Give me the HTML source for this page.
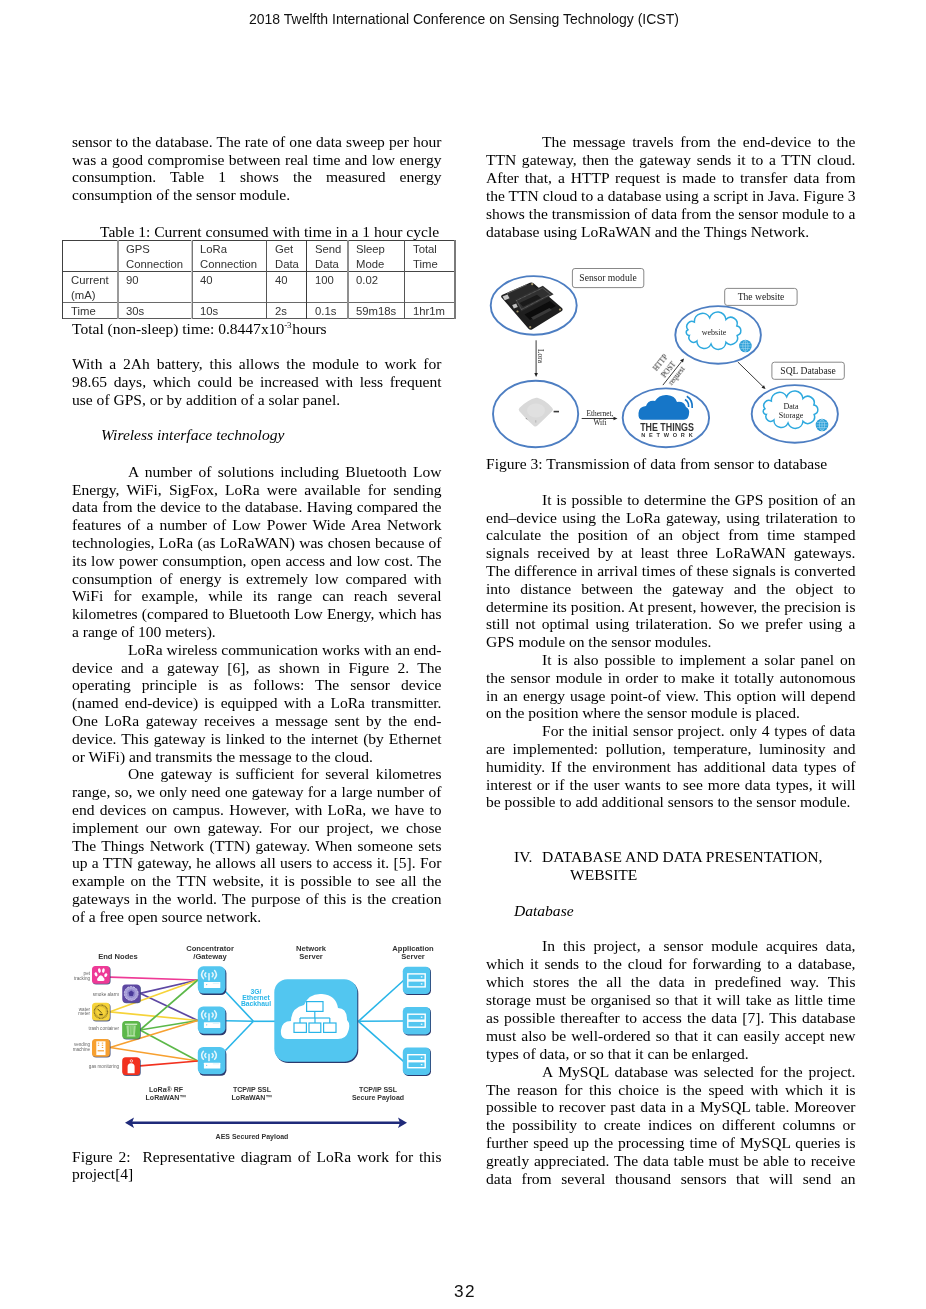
<!DOCTYPE html>
<html><head><meta charset="utf-8">
<style>
html,body{margin:0;padding:0;background:#fff;}
body{width:926px;height:1309px;position:relative;overflow:hidden;color:#000;-webkit-font-smoothing:antialiased;}
.j,.l,.tc,.fl,.hdr{will-change:transform;}
.j,.l{position:absolute;font-family:"Liberation Serif",serif;font-size:15.56px;line-height:18px;white-space:nowrap;}
.j{text-align:justify;text-align-last:justify;}
.sup{font-size:9px;position:relative;top:-6.5px;letter-spacing:-0.3px;margin-right:1px;}
.tc{position:absolute;font-family:"Liberation Sans",sans-serif;font-size:11.3px;line-height:15.3px;white-space:nowrap;color:#333;}
.fl{position:absolute;font-family:"Liberation Sans",sans-serif;line-height:1;white-space:nowrap;}
.hdr{position:absolute;font-family:"Liberation Sans",sans-serif;white-space:nowrap;color:#111;}
</style></head><body>
<div class="hdr" style="left:248.6px;top:11px;font-size:14px;">2018 Twelfth International Conference on Sensing Technology (ICST)</div>
<div class="hdr" style="left:454px;top:1281px;font-size:17.2px;letter-spacing:1.4px;">32</div>
<div class="j" style="left:71.50px;top:132.80px;width:369.50px;">sensor to the database. The rate of one data sweep per hour</div>
<div class="j" style="left:71.50px;top:150.60px;width:369.50px;">was a good compromise between real time and low energy</div>
<div class="j" style="left:71.50px;top:168.40px;width:369.50px;">consumption. Table 1 shows the measured energy</div>
<div class="l" style="left:71.50px;top:186.20px;">consumption of the sensor module.</div>
<div class="l" style="left:100.00px;top:223.00px;">Table 1: Current consumed with time in a 1 hour cycle</div>
<div class="l" style="left:71.50px;top:320.00px;">Total (non-sleep) time: 0.8447x10<span class='sup'>-3</span>hours</div>
<div class="j" style="left:71.50px;top:355.10px;width:369.50px;">With a 2Ah battery, this allows the module to work for</div>
<div class="j" style="left:71.50px;top:372.90px;width:369.50px;">98.65 days, which could be increased with less frequent</div>
<div class="l" style="left:71.50px;top:390.70px;">use of GPS, or by addition of a solar panel.</div>
<div class="l" style="left:100.50px;top:426.40px;"><i>Wireless interface technology</i></div>
<div class="j" style="left:127.50px;top:462.80px;width:313.50px;">A number of solutions including Bluetooth Low</div>
<div class="j" style="left:71.50px;top:480.60px;width:369.50px;">Energy, WiFi, SigFox, LoRa were available for sending</div>
<div class="j" style="left:71.50px;top:498.40px;width:369.50px;">data from the device to the database. Having compared the</div>
<div class="j" style="left:71.50px;top:516.20px;width:369.50px;">features of a number of Low Power Wide Area Network</div>
<div class="j" style="left:71.50px;top:534.00px;width:369.50px;">technologies, LoRa (as LoRaWAN) was chosen because of</div>
<div class="j" style="left:71.50px;top:551.80px;width:369.50px;">its low power consumption, open access and low cost. The</div>
<div class="j" style="left:71.50px;top:569.60px;width:369.50px;">consumption of energy is extremely low compared with</div>
<div class="j" style="left:71.50px;top:587.40px;width:369.50px;">WiFi for example, while its range can reach several</div>
<div class="j" style="left:71.50px;top:605.20px;width:369.50px;">kilometres (compared to Bluetooth Low Energy, which has</div>
<div class="l" style="left:71.50px;top:623.00px;">a range of 100 meters).</div>
<div class="j" style="left:127.50px;top:640.80px;width:313.50px;word-spacing:-0.29px;">LoRa wireless communication works with an end-</div>
<div class="j" style="left:71.50px;top:658.60px;width:369.50px;">device and a gateway [6], as shown in Figure 2. The</div>
<div class="j" style="left:71.50px;top:676.40px;width:369.50px;">operating principle is as follows: The sensor device</div>
<div class="j" style="left:71.50px;top:694.20px;width:369.50px;">(named end-device) is equipped with a LoRa transmitter.</div>
<div class="j" style="left:71.50px;top:712.00px;width:369.50px;">One LoRa gateway receives a message sent by the end-</div>
<div class="j" style="left:71.50px;top:729.80px;width:369.50px;">device. This gateway is linked to the internet (by Ethernet</div>
<div class="l" style="left:71.50px;top:747.60px;">or WiFi) and transmits the message to the cloud.</div>
<div class="j" style="left:127.50px;top:765.40px;width:313.50px;">One gateway is sufficient for several kilometres</div>
<div class="j" style="left:71.50px;top:783.20px;width:369.50px;">range, so, we only need one gateway for a large number of</div>
<div class="j" style="left:71.50px;top:801.00px;width:369.50px;">end devices on campus. However, with LoRa, we have to</div>
<div class="j" style="left:71.50px;top:818.80px;width:369.50px;">implement our own gateway. For our project, we chose</div>
<div class="j" style="left:71.50px;top:836.60px;width:369.50px;">The Things Network (TTN) gateway. When someone sets</div>
<div class="j" style="left:71.50px;top:854.40px;width:369.50px;">up a TTN gateway, he allows all users to access it. [5]. For</div>
<div class="j" style="left:71.50px;top:872.20px;width:369.50px;">example on the TTN website, it is possible to see all the</div>
<div class="j" style="left:71.50px;top:890.00px;width:369.50px;">gateways in the world. The purpose of this is the creation</div>
<div class="l" style="left:71.50px;top:907.80px;">of a free open source network.</div>
<div class="j" style="left:71.50px;top:1147.60px;width:369.50px;word-spacing:-3.15px;">Figure 2:&nbsp; Representative diagram of LoRa work for this</div>
<div class="l" style="left:71.50px;top:1164.70px;">project[4]</div>
<div class="j" style="left:542.00px;top:133.20px;width:313.50px;">The message travels from the end-device to the</div>
<div class="j" style="left:486.00px;top:151.10px;width:369.50px;">TTN gateway, then the gateway sends it to a TTN cloud.</div>
<div class="j" style="left:486.00px;top:169.00px;width:369.50px;">After that, a HTTP request is made to transfer data from</div>
<div class="j" style="left:486.00px;top:186.90px;width:369.50px;word-spacing:-0.17px;">the TTN cloud to a database using a script in Java. Figure 3</div>
<div class="j" style="left:486.00px;top:204.80px;width:369.50px;word-spacing:-0.11px;">shows the transmission of data from the sensor module to a</div>
<div class="l" style="left:486.00px;top:222.70px;">database using LoRaWAN and the Things Network.</div>
<div class="l" style="left:486.00px;top:455.10px;">Figure 3: Transmission of data from sensor to database</div>
<div class="j" style="left:542.00px;top:490.70px;width:313.50px;">It is possible to determine the GPS position of an</div>
<div class="j" style="left:486.00px;top:508.50px;width:369.50px;">end–device using the LoRa gateway, using trilateration to</div>
<div class="j" style="left:486.00px;top:526.30px;width:369.50px;">calculate the position of an object from time stamped</div>
<div class="j" style="left:486.00px;top:544.10px;width:369.50px;">signals received by at least three LoRaWAN gateways.</div>
<div class="j" style="left:486.00px;top:561.90px;width:369.50px;">The difference in arrival times of these signals is converted</div>
<div class="j" style="left:486.00px;top:579.70px;width:369.50px;">into distance between the gateway and the object to</div>
<div class="j" style="left:486.00px;top:597.50px;width:369.50px;">determine its position. At present, however, the precision is</div>
<div class="j" style="left:486.00px;top:615.30px;width:369.50px;">still not optimal using trilateration. So we prefer using a</div>
<div class="l" style="left:486.00px;top:633.10px;">GPS module on the sensor modules.</div>
<div class="j" style="left:542.00px;top:650.90px;width:313.50px;">It is also possible to implement a solar panel on</div>
<div class="j" style="left:486.00px;top:668.70px;width:369.50px;">the sensor module in order to make it totally autonomous</div>
<div class="j" style="left:486.00px;top:686.50px;width:369.50px;">in an energy usage point-of view. This option will depend</div>
<div class="l" style="left:486.00px;top:704.30px;">on the position where the sensor module is placed.</div>
<div class="j" style="left:542.00px;top:722.10px;width:313.50px;">For the initial sensor project. only 4 types of data</div>
<div class="j" style="left:486.00px;top:739.90px;width:369.50px;">are implemented: pollution, temperature, luminosity and</div>
<div class="j" style="left:486.00px;top:757.70px;width:369.50px;">humidity. If the environment has additional data types of</div>
<div class="j" style="left:486.00px;top:775.50px;width:369.50px;">interest or if the user wants to see more data types, it will</div>
<div class="l" style="left:486.00px;top:793.30px;">be possible to add additional sensors to the sensor module.</div>
<div class="l" style="left:513.80px;top:848.10px;">IV.</div>
<div class="l" style="left:541.80px;top:848.10px;">DATABASE AND DATA PRESENTATION,</div>
<div class="l" style="left:570.30px;top:865.80px;">WEBSITE</div>
<div class="l" style="left:513.80px;top:902.10px;"><i>Database</i></div>
<div class="j" style="left:542.00px;top:937.40px;width:313.50px;">In this project, a sensor module acquires data,</div>
<div class="j" style="left:486.00px;top:955.29px;width:369.50px;">which it sends to the cloud for forwarding to a database,</div>
<div class="j" style="left:486.00px;top:973.18px;width:369.50px;">which stores the all the data in predefined way. This</div>
<div class="j" style="left:486.00px;top:991.07px;width:369.50px;">storage must be organised so that it will take as little time</div>
<div class="j" style="left:486.00px;top:1008.96px;width:369.50px;">as possible thereafter to access the data [7]. This database</div>
<div class="j" style="left:486.00px;top:1026.85px;width:369.50px;">must also be well-ordered so that it can easily accept new</div>
<div class="l" style="left:486.00px;top:1044.74px;">types of data, or so that it can be enlarged.</div>
<div class="j" style="left:542.00px;top:1062.63px;width:313.50px;">A MySQL database was selected for the project.</div>
<div class="j" style="left:486.00px;top:1080.52px;width:369.50px;">The reason for this choice is the speed with which it is</div>
<div class="j" style="left:486.00px;top:1098.41px;width:369.50px;">possible to recover past data in a MySQL table. Moreover</div>
<div class="j" style="left:486.00px;top:1116.30px;width:369.50px;">the possibility to create indices on different columns or</div>
<div class="j" style="left:486.00px;top:1134.19px;width:369.50px;">further speed up the processing time of MySQL queries is</div>
<div class="j" style="left:486.00px;top:1152.08px;width:369.50px;">greatly appreciated. The data table must be able to receive</div>
<div class="j" style="left:486.00px;top:1169.97px;width:369.50px;">data from several thousand sensors that will send an</div>
<div style="position:absolute;left:62px;top:240px;width:394px;height:1px;background:#404040"></div>
<div style="position:absolute;left:62px;top:271px;width:394px;height:1px;background:#454545"></div>
<div style="position:absolute;left:62px;top:302px;width:394px;height:1px;background:#6a6a6a"></div>
<div style="position:absolute;left:62px;top:318px;width:394px;height:1px;background:#5a5a5a"></div>
<div style="position:absolute;left:62px;top:240px;width:1px;height:79px;background:#404040"></div>
<div style="position:absolute;left:117px;top:240px;width:2px;height:79px;background:#9a9a9a"></div>
<div style="position:absolute;left:191px;top:240px;width:1px;height:79px;background:#c8c8c8"></div>
<div style="position:absolute;left:192px;top:240px;width:1px;height:79px;background:#777"></div>
<div style="position:absolute;left:266px;top:240px;width:1px;height:79px;background:#555"></div>
<div style="position:absolute;left:306px;top:240px;width:1px;height:79px;background:#3a3a3a"></div>
<div style="position:absolute;left:347px;top:240px;width:2px;height:79px;background:#8f8f8f"></div>
<div style="position:absolute;left:404px;top:240px;width:1px;height:79px;background:#555"></div>
<div style="position:absolute;left:454px;top:240px;width:2px;height:79px;background:#7a7a7a"></div>
<div class="tc" style="left:126.20px;top:242.10px;">GPS<br>Connection</div>
<div class="tc" style="left:200.10px;top:242.10px;">LoRa<br>Connection</div>
<div class="tc" style="left:274.50px;top:242.10px;">Get<br>Data</div>
<div class="tc" style="left:314.90px;top:242.10px;">Send<br>Data</div>
<div class="tc" style="left:356.00px;top:242.10px;">Sleep<br>Mode</div>
<div class="tc" style="left:412.60px;top:242.10px;">Total<br>Time</div>
<div class="tc" style="left:71.30px;top:272.50px;">Current<br>(mA)</div>
<div class="tc" style="left:126.20px;top:272.50px;">90</div>
<div class="tc" style="left:200.10px;top:272.50px;">40</div>
<div class="tc" style="left:274.50px;top:272.50px;">40</div>
<div class="tc" style="left:314.90px;top:272.50px;">100</div>
<div class="tc" style="left:356.00px;top:272.50px;">0.02</div>
<div class="tc" style="left:71.30px;top:304.20px;">Time</div>
<div class="tc" style="left:126.20px;top:304.20px;">30s</div>
<div class="tc" style="left:200.10px;top:304.20px;">10s</div>
<div class="tc" style="left:274.50px;top:304.20px;">2s</div>
<div class="tc" style="left:314.90px;top:304.20px;">0.1s</div>
<div class="tc" style="left:356.00px;top:304.20px;">59m18s</div>
<div class="tc" style="left:412.60px;top:304.20px;">1hr1m</div>
<svg style="position:absolute;left:0;top:0" width="926" height="1309" viewBox="0 0 926 1309">
<line x1="110" y1="977.2" x2="197.8" y2="980" stroke="#ee3a96" stroke-width="1.7"/>
<line x1="140" y1="993.3" x2="197.8" y2="980" stroke="#5d47a2" stroke-width="1.7"/>
<line x1="140" y1="993.3" x2="197.8" y2="1020.5" stroke="#5d47a2" stroke-width="1.7"/>
<line x1="110" y1="1011.8" x2="197.8" y2="980" stroke="#f6d33a" stroke-width="1.7"/>
<line x1="110" y1="1011.8" x2="197.8" y2="1020.5" stroke="#f6d33a" stroke-width="1.7"/>
<line x1="140" y1="1030" x2="197.8" y2="980" stroke="#5cb849" stroke-width="1.7"/>
<line x1="140" y1="1030" x2="197.8" y2="1020.5" stroke="#5cb849" stroke-width="1.7"/>
<line x1="140" y1="1030" x2="197.8" y2="1061" stroke="#5cb849" stroke-width="1.7"/>
<line x1="110" y1="1047.5" x2="197.8" y2="1020.5" stroke="#f7a030" stroke-width="1.7"/>
<line x1="110" y1="1047.5" x2="197.8" y2="1061" stroke="#f7a030" stroke-width="1.7"/>
<line x1="140" y1="1065.8" x2="197.8" y2="1061" stroke="#f2311f" stroke-width="1.7"/>
<line x1="225.4" y1="991.5" x2="253.4" y2="1021.3" stroke="#29b5e8" stroke-width="1.6"/>
<line x1="225.4" y1="1020.8" x2="253.4" y2="1021.3" stroke="#29b5e8" stroke-width="1.6"/>
<line x1="225.4" y1="1050.5" x2="253.4" y2="1021.3" stroke="#29b5e8" stroke-width="1.6"/>
<line x1="253.4" y1="1021.3" x2="275" y2="1021.3" stroke="#29b5e8" stroke-width="1.6"/>
<line x1="358.4" y1="1021.3" x2="403.5" y2="980.5" stroke="#29b5e8" stroke-width="1.6"/>
<line x1="358.4" y1="1021.3" x2="403.5" y2="1021.0" stroke="#29b5e8" stroke-width="1.6"/>
<line x1="358.4" y1="1021.3" x2="403.5" y2="1061.3" stroke="#29b5e8" stroke-width="1.6"/>
<rect x="92.6" y="966.6" width="18" height="18" rx="3.5" fill="#2b3a6e" opacity="0.8"/>
<rect x="92.0" y="966.0" width="17.8" height="17.8" rx="3.5" fill="#ee3a96"/>
<rect x="122.89999999999999" y="985.2" width="18" height="18" rx="3.5" fill="#2b3a6e" opacity="0.8"/>
<rect x="122.3" y="984.6" width="17.8" height="17.8" rx="3.5" fill="#5d47a2"/>
<rect x="92.6" y="1003.4" width="18" height="18" rx="3.5" fill="#2b3a6e" opacity="0.8"/>
<rect x="92.0" y="1002.8" width="17.8" height="17.8" rx="3.5" fill="#f6d33a"/>
<rect x="122.8" y="1021.6" width="18" height="18" rx="3.5" fill="#2b3a6e" opacity="0.8"/>
<rect x="122.2" y="1021.0" width="17.8" height="17.8" rx="3.5" fill="#5cb849"/>
<rect x="92.6" y="1039.6" width="18" height="18" rx="3.5" fill="#2b3a6e" opacity="0.8"/>
<rect x="92.0" y="1039.0" width="17.8" height="17.8" rx="3.5" fill="#f7a030"/>
<rect x="122.8" y="1057.8999999999999" width="18" height="18" rx="3.5" fill="#2b3a6e" opacity="0.8"/>
<rect x="122.2" y="1057.3" width="17.8" height="17.8" rx="3.5" fill="#f2311f"/>
<g fill="#fff"><ellipse cx="96" cy="974.4" rx="1.35" ry="2.1" transform="rotate(-25 96 974.4)"/><ellipse cx="99.4" cy="970.6" rx="1.35" ry="2.3" transform="rotate(-10 99.4 970.6)"/><ellipse cx="103.4" cy="970.6" rx="1.3" ry="2.3" transform="rotate(10 103.4 970.6)"/><ellipse cx="105.8" cy="975.1" rx="1.4" ry="2.0" transform="rotate(25 105.8 975.1)"/><path d="M100.8 975.2 Q102.2 975.2 104.2 978.6 Q105.2 980.8 103 981 L98.6 981 Q96.4 980.8 97.4 978.6 Q99.4 975.2 100.8 975.2 Z"/></g>
<circle cx="131.2" cy="993.5" r="6.9" fill="#a79fd8"/><circle cx="131.2" cy="993.5" r="6.9" fill="none" stroke="#d9d4f2" stroke-width="0.8" stroke-dasharray="2.2 0.9"/><circle cx="131.2" cy="993.5" r="4.6" fill="#8f86cc"/><circle cx="131.2" cy="993.5" r="4.6" fill="none" stroke="#cfc9ee" stroke-width="0.5" stroke-dasharray="1 0.8"/><path d="M131.2 990.6 L133.9 992.6 L132.9 996.0 L129.5 996.0 L128.5 992.6 Z" fill="#4a3a9a"/>
<circle cx="100.9" cy="1011.6999999999999" r="6.6" fill="none" stroke="#7a6620" stroke-width="1.3" stroke-dasharray="0.9 0.5"/><circle cx="100.9" cy="1011.6999999999999" r="5.2" fill="none" stroke="#8a7526" stroke-width="0.5" stroke-dasharray="0.6 0.6"/><line x1="97.5" y1="1008.8" x2="101.5" y2="1012.8" stroke="#4a3d12" stroke-width="0.9"/><rect x="99.3" y="1013.8" width="3.4" height="1.5" fill="#4a3d12"/>
<path d="M126.4 1025.6 H135.8 L134.8 1036.0 H127.4 Z" fill="#a6dc97"/><rect x="125.0" y="1023.6" width="12.2" height="1.4" fill="#c9ecbf"/><rect x="126.8" y="1035.6" width="8.6" height="0.9" fill="#c9ecbf"/><g stroke="#5cb849" stroke-width="0.8"><line x1="129.2" y1="1026.0" x2="129.6" y2="1035.0"/><line x1="131.1" y1="1026.0" x2="131.1" y2="1035.0"/><line x1="133.0" y1="1026.0" x2="132.6" y2="1035.0"/></g>
<rect x="96.3" y="1041.3" width="9.2" height="13.8" fill="#fff"/><g fill="#f7a030"><rect x="97.8" y="1042.6" width="1.4" height="1"/><rect x="101.8" y="1042.6" width="1.4" height="1"/><rect x="97.8" y="1044.8" width="1.4" height="1"/><rect x="101.8" y="1044.8" width="1.4" height="1"/><rect x="101.8" y="1047.0" width="1.4" height="1"/><rect x="97.6" y="1050.2" width="6.4" height="1.2"/></g>
<path d="M127.60000000000001 1073.3 V1066.8 Q127.60000000000001 1063.3 131.1 1063.3 Q134.6 1063.3 134.6 1066.8 V1073.3 Z" fill="#fff"/><circle cx="131.4" cy="1060.8999999999999" r="1.2" fill="none" stroke="#fff" stroke-width="0.7"/>
<rect x="198.8" y="967.6999999999999" width="27.6" height="27.4" rx="5.5" fill="#2b3a6e"/>
<rect x="197.8" y="966.3" width="27.6" height="27.2" rx="5.5" fill="#52c6f0"/>
<g fill="none" stroke="#e6f6fc" stroke-width="1.5" stroke-linecap="round"><path d="M203.4 970.5 Q199.8 974.5999999999999 203.4 978.5999999999999"/><path d="M214.6 970.5 Q218.2 974.5999999999999 214.6 978.5999999999999"/><path d="M205.8 972.9 Q203.8 974.8 205.8 976.6999999999999"/><path d="M212.2 972.9 Q214.2 974.8 212.2 976.6999999999999"/></g>
<rect x="208.25" y="973.0999999999999" width="1.5" height="7.4" fill="#e6f6fc"/>
<rect x="203.9" y="982.0" width="16.4" height="5.9" rx="0.5" fill="#fff"/><circle cx="206.70000000000002" cy="984.5999999999999" r="0.6" fill="#52c6f0"/><rect x="212.8" y="982.9" width="6.4" height="0.6" fill="#c4ecfa"/>
<rect x="198.8" y="1007.9" width="27.6" height="27.4" rx="5.5" fill="#2b3a6e"/>
<rect x="197.8" y="1006.5" width="27.6" height="27.2" rx="5.5" fill="#52c6f0"/>
<g fill="none" stroke="#e6f6fc" stroke-width="1.5" stroke-linecap="round"><path d="M203.4 1010.7 Q199.8 1014.8 203.4 1018.8"/><path d="M214.6 1010.7 Q218.2 1014.8 214.6 1018.8"/><path d="M205.8 1013.1 Q203.8 1015.0 205.8 1016.9"/><path d="M212.2 1013.1 Q214.2 1015.0 212.2 1016.9"/></g>
<rect x="208.25" y="1013.3" width="1.5" height="7.4" fill="#e6f6fc"/>
<rect x="203.9" y="1022.2" width="16.4" height="5.9" rx="0.5" fill="#fff"/><circle cx="206.70000000000002" cy="1024.8" r="0.6" fill="#52c6f0"/><rect x="212.8" y="1023.1" width="6.4" height="0.6" fill="#c4ecfa"/>
<rect x="198.8" y="1048.4" width="27.6" height="27.4" rx="5.5" fill="#2b3a6e"/>
<rect x="197.8" y="1047.0" width="27.6" height="27.2" rx="5.5" fill="#52c6f0"/>
<g fill="none" stroke="#e6f6fc" stroke-width="1.5" stroke-linecap="round"><path d="M203.4 1051.2 Q199.8 1055.3 203.4 1059.3"/><path d="M214.6 1051.2 Q218.2 1055.3 214.6 1059.3"/><path d="M205.8 1053.6 Q203.8 1055.5 205.8 1057.4"/><path d="M212.2 1053.6 Q214.2 1055.5 212.2 1057.4"/></g>
<rect x="208.25" y="1053.8" width="1.5" height="7.4" fill="#e6f6fc"/>
<rect x="203.9" y="1062.7" width="16.4" height="5.9" rx="0.5" fill="#fff"/><circle cx="206.70000000000002" cy="1065.3" r="0.6" fill="#52c6f0"/><rect x="212.8" y="1063.6" width="6.4" height="0.6" fill="#c4ecfa"/>
<rect x="275.3" y="980.5" width="83" height="82.5" rx="13" fill="#2b3a6e"/>
<rect x="274.3" y="979.3" width="83" height="82.5" rx="13" fill="#52c6f0"/>
<path d="M287 1039 Q280 1039 281 1030 Q282 1021 291 1021 Q291 1008 304 1005 Q309 993 322 994 Q336 995 338 1008 Q347 1008 347 1020 Q351 1024 348 1032 Q346 1039 338 1039 Z" fill="#fff"/>
<g fill="none" stroke="#29b5e8" stroke-width="1.2"><rect x="306.6" y="1001.6" width="16.4" height="9.8"/><line x1="314.8" y1="1011.4" x2="314.8" y2="1018"/><line x1="300" y1="1018" x2="329.8" y2="1018"/><line x1="300" y1="1018" x2="300" y2="1023"/><line x1="315" y1="1018" x2="315" y2="1023"/><line x1="329.8" y1="1018" x2="329.8" y2="1023"/><rect x="294" y="1023" width="12.4" height="9.4"/><rect x="309" y="1023" width="11.8" height="9.4"/><rect x="323.6" y="1023" width="12.4" height="9.4"/></g>
<rect x="403.6" y="967.5" width="27.4" height="27.6" rx="4.5" fill="#2b3a6e"/>
<rect x="402.8" y="966.7" width="27.4" height="27.4" rx="4.5" fill="#52c6f0"/>
<g fill="none" stroke="#fff" stroke-width="1.4"><rect x="407.8" y="973.9000000000001" width="17.4" height="6"/><rect x="407.8" y="980.9000000000001" width="17.4" height="6"/></g><rect x="420.8" y="976.3000000000001" width="1.6" height="1.2" fill="#fff"/><rect x="420.8" y="983.3000000000001" width="1.6" height="1.2" fill="#fff"/>
<rect x="403.6" y="1007.8" width="27.4" height="27.6" rx="4.5" fill="#2b3a6e"/>
<rect x="402.8" y="1007.0" width="27.4" height="27.4" rx="4.5" fill="#52c6f0"/>
<g fill="none" stroke="#fff" stroke-width="1.4"><rect x="407.8" y="1014.2" width="17.4" height="6"/><rect x="407.8" y="1021.2" width="17.4" height="6"/></g><rect x="420.8" y="1016.6" width="1.6" height="1.2" fill="#fff"/><rect x="420.8" y="1023.6" width="1.6" height="1.2" fill="#fff"/>
<rect x="403.6" y="1048.3" width="27.4" height="27.6" rx="4.5" fill="#2b3a6e"/>
<rect x="402.8" y="1047.5" width="27.4" height="27.4" rx="4.5" fill="#52c6f0"/>
<g fill="none" stroke="#fff" stroke-width="1.4"><rect x="407.8" y="1054.7" width="17.4" height="6"/><rect x="407.8" y="1061.7" width="17.4" height="6"/></g><rect x="420.8" y="1057.1" width="1.6" height="1.2" fill="#fff"/><rect x="420.8" y="1064.1" width="1.6" height="1.2" fill="#fff"/>
<line x1="130" y1="1122.7" x2="402" y2="1122.7" stroke="#1f2a7a" stroke-width="2.6"/>
<path d="M125 1122.7 L134 1117.5 L132 1122.7 L134 1128 Z" fill="#1f2a7a"/><path d="M407 1122.7 L398 1117.5 L400 1122.7 L398 1128 Z" fill="#1f2a7a"/>
</svg>
<div class="fl" style="left:57.8px;top:953.39px;width:120px;text-align:center;font-size:7.6px;font-weight:bold;color:#333">End Nodes</div>
<div class="fl" style="left:150.3px;top:944.99px;width:120px;text-align:center;font-size:7.6px;font-weight:bold;color:#333">Concentrator</div>
<div class="fl" style="left:150.3px;top:952.59px;width:120px;text-align:center;font-size:7.6px;font-weight:bold;color:#333">/Gateway</div>
<div class="fl" style="left:251.3px;top:944.79px;width:120px;text-align:center;font-size:7.6px;font-weight:bold;color:#333">Network</div>
<div class="fl" style="left:251.3px;top:952.89px;width:120px;text-align:center;font-size:7.6px;font-weight:bold;color:#333">Server</div>
<div class="fl" style="left:353.0px;top:944.79px;width:120px;text-align:center;font-size:7.6px;font-weight:bold;color:#333">Application</div>
<div class="fl" style="left:353.0px;top:952.89px;width:120px;text-align:center;font-size:7.6px;font-weight:bold;color:#333">Server</div>
<div class="fl" style="left:196.0px;top:988.78px;width:120px;text-align:center;font-size:6.8px;font-weight:bold;color:#29b5e8">3G/</div>
<div class="fl" style="left:196.0px;top:995.08px;width:120px;text-align:center;font-size:6.8px;font-weight:bold;color:#29b5e8">Ethernet</div>
<div class="fl" style="left:196.0px;top:1001.38px;width:120px;text-align:center;font-size:6.8px;font-weight:bold;color:#29b5e8">Backhaul</div>
<div class="fl" style="left:106.0px;top:1086.46px;width:120px;text-align:center;font-size:7.0px;font-weight:bold;color:#333">LoRa® RF</div>
<div class="fl" style="left:106.0px;top:1093.76px;width:120px;text-align:center;font-size:7.0px;font-weight:bold;color:#333">LoRaWAN™</div>
<div class="fl" style="left:191.6px;top:1086.46px;width:120px;text-align:center;font-size:7.0px;font-weight:bold;color:#333">TCP/IP SSL</div>
<div class="fl" style="left:191.6px;top:1093.76px;width:120px;text-align:center;font-size:7.0px;font-weight:bold;color:#333">LoRaWAN™</div>
<div class="fl" style="left:318.3px;top:1086.46px;width:120px;text-align:center;font-size:7.0px;font-weight:bold;color:#333">TCP/IP SSL</div>
<div class="fl" style="left:318.3px;top:1093.76px;width:120px;text-align:center;font-size:7.0px;font-weight:bold;color:#333">Secure Payload</div>
<div class="fl" style="left:191.6px;top:1132.96px;width:120px;text-align:center;font-size:7.0px;font-weight:bold;color:#333">AES Secured Payload</div>
<div class="fl" style="left:-30.299999999999997px;top:972.05px;width:120px;text-align:right;font-size:4.6px;font-weight:normal;color:#666">pet</div>
<div class="fl" style="left:-30.299999999999997px;top:976.75px;width:120px;text-align:right;font-size:4.6px;font-weight:normal;color:#666">tracking</div>
<div class="fl" style="left:-1.4000000000000057px;top:992.75px;width:120px;text-align:right;font-size:4.6px;font-weight:normal;color:#666">smoke alarm</div>
<div class="fl" style="left:-30.299999999999997px;top:1007.55px;width:120px;text-align:right;font-size:4.6px;font-weight:normal;color:#666">water</div>
<div class="fl" style="left:-30.299999999999997px;top:1012.35px;width:120px;text-align:right;font-size:4.6px;font-weight:normal;color:#666">meter</div>
<div class="fl" style="left:-1.4000000000000057px;top:1027.45px;width:120px;text-align:right;font-size:4.6px;font-weight:normal;color:#666">trash container</div>
<div class="fl" style="left:-30.299999999999997px;top:1043.45px;width:120px;text-align:right;font-size:4.6px;font-weight:normal;color:#666">vending</div>
<div class="fl" style="left:-30.299999999999997px;top:1048.15px;width:120px;text-align:right;font-size:4.6px;font-weight:normal;color:#666">machine</div>
<div class="fl" style="left:-1.4000000000000057px;top:1065.05px;width:120px;text-align:right;font-size:4.6px;font-weight:normal;color:#666">gas monitoring</div>
<svg style="position:absolute;left:0;top:0" width="926" height="1309" viewBox="0 0 926 1309">
<ellipse cx="533.7" cy="305.4" rx="43.0" ry="29.3" fill="none" stroke="#4d7ec2" stroke-width="1.9"/>
<ellipse cx="535.6" cy="414.0" rx="42.6" ry="33.2" fill="none" stroke="#4d7ec2" stroke-width="1.9"/>
<ellipse cx="665.9" cy="417.8" rx="43.2" ry="29.4" fill="none" stroke="#4d7ec2" stroke-width="1.9"/>
<ellipse cx="718.1" cy="334.9" rx="42.8" ry="28.8" fill="none" stroke="#4d7ec2" stroke-width="1.9"/>
<ellipse cx="794.8" cy="413.9" rx="43.1" ry="28.8" fill="none" stroke="#4d7ec2" stroke-width="1.9"/>
<rect x="572.4" y="268.5" width="71.39999999999998" height="19.100000000000023" rx="2.5" fill="#fff" stroke="#7a7a7a" stroke-width="0.9"/>
<rect x="724.7" y="288.4" width="72.39999999999998" height="17.0" rx="2.5" fill="#fff" stroke="#7a7a7a" stroke-width="0.9"/>
<rect x="771.9" y="362.2" width="72.39999999999998" height="17.100000000000023" rx="2.5" fill="#fff" stroke="#7a7a7a" stroke-width="0.9"/>
<path d="M501.3 297.2 Q500.5 295.5 503 294.5 L530 282.8 Q532 282 533.5 283.2 L562 308 Q563.5 310 561.5 311.2 L532 329.5 Q530 330.2 528.5 328.8 Z" fill="#1f1f1f"/>
<path d="M503 295.5 L530.5 283.5 L539 291 L510.5 305 Z" fill="#2a2a2a"/>
<path d="M514.5 299.5 L542.8 285.8 L553.6 294.2 L521.2 311.5 Z" fill="#303030"/>
<path d="M516.5 300.5 L542.5 288 L550.5 294.3 L521.5 309.5 Z" fill="none" stroke="#8a8a8a" stroke-width="0.7" stroke-dasharray="0.8 0.6"/>
<path d="M519.5 303 L537 294.8 L541 298 L523 306.8 Z" fill="#1a1a1a"/>
<path d="M524.5 314.5 L550 301 L556 306 L530 320 Z" fill="#0c0c0c"/>
<path d="M531 317.5 L549.5 308 L552 310 L533.5 319.8 Z" fill="#3a3a3a"/>
<path d="M502.5 296.5 L507.5 294.4 L509.5 298.3 L504.8 300.3 Z" fill="#c8c8c8"/>
<path d="M512.2 305 L516.2 303.5 L517.8 307 L513.8 308.5 Z" fill="#c0c0c0"/>
<path d="M507 293.5 L527 284.5" stroke="#777" stroke-width="0.8"/>
<circle cx="532.2" cy="284.2" r="1.1" fill="#a89a70"/>
<circle cx="560.0" cy="309.6" r="1.1" fill="#a89a70"/>
<circle cx="530.2" cy="327.2" r="1.1" fill="#a89a70"/>
<circle cx="517.5" cy="311.5" r="1.1" fill="#a89a70"/>
<line x1="536.1" y1="340.3" x2="536.1" y2="374" stroke="#222" stroke-width="0.9"/><path d="M534.3 373 L537.9 373 L536.1 377 Z" fill="#222"/>
<path d="M536.7 400.2 Q544 402 550.4 409.6 Q543 417 535.5 424 Q527.5 417 521.3 409.6 Q529 402 536.7 400.2 Z" fill="#d9d9d9" stroke="#d9d9d9" stroke-width="5" stroke-linejoin="round"/>
<ellipse cx="536" cy="410.5" rx="9" ry="7" fill="#e0e0e0"/>
<rect x="553.6" y="410.8" width="5.4" height="1.6" fill="#3a3a3a"/>
<line x1="526" y1="418.2" x2="527" y2="419.4" stroke="#666" stroke-width="0.8"/><line x1="535.8" y1="420.2" x2="535.8" y2="422.6" stroke="#999" stroke-width="0.6"/>
<line x1="581.7" y1="418.5" x2="614.5" y2="418.5" stroke="#222" stroke-width="0.9"/><path d="M613.5 416.7 L613.5 420.3 L617.5 418.5 Z" fill="#222"/>
<line x1="662.9" y1="385.1" x2="681.6" y2="361.5" stroke="#222" stroke-width="0.9"/><path d="M680 360.2 L683 362.5 L684 358.6 Z" fill="#222"/>
<line x1="737.8" y1="362" x2="763" y2="386.6" stroke="#222" stroke-width="0.9"/><path d="M761.5 387.8 L764 385.2 L765.5 389 Z" fill="#222"/>
<path d="M642 419.7 Q638 419.7 638.5 413 Q639 406.5 646 406 Q648 400 655 401 Q659 394.5 667 395 Q675 395.5 677 402 Q684 401 686 407 Q690 409 689 414 Q688.5 419.7 684 419.7 Z" fill="#1676c8"/>
<g fill="none" stroke="#1676c8" stroke-width="1.6"><path d="M685 399.5 Q689 402 688.6 407"/><path d="M686.8 396.3 Q692.8 400 692.2 408"/></g>
<path d="M687.92 329.75 A5.12 5.12 0 0 1 694.36 322.05 A8.13 8.13 0 0 1 709.71 317.80 A8.33 8.33 0 0 1 725.96 319.45 A6.45 6.45 0 0 1 736.82 325.95 A4.84 4.84 0 0 1 737.14 335.42 A6.71 6.71 0 0 1 725.96 342.35 A7.66 7.66 0 0 1 711.03 344.07 A7.37 7.37 0 0 1 696.91 341.03 A4.80 4.80 0 0 1 689.36 335.42 A2.99 2.99 0 0 1 687.92 329.75 Z" fill="none" stroke="#2ea9de" stroke-width="1.5"/>
<path d="M764.92 408.75 A5.12 5.12 0 0 1 771.36 401.05 A8.13 8.13 0 0 1 786.71 396.80 A8.33 8.33 0 0 1 802.96 398.45 A6.45 6.45 0 0 1 813.82 404.95 A4.84 4.84 0 0 1 814.14 414.42 A6.71 6.71 0 0 1 802.96 421.35 A7.66 7.66 0 0 1 788.03 423.07 A7.37 7.37 0 0 1 773.91 420.03 A4.80 4.80 0 0 1 766.36 414.42 A2.99 2.99 0 0 1 764.92 408.75 Z" fill="none" stroke="#2ea9de" stroke-width="1.5"/>
<circle cx="745.4" cy="346.0" r="6.3" fill="#2b9fd8"/><g fill="none" stroke="#bfe4f5" stroke-width="0.5"><ellipse cx="745.4" cy="346.0" rx="2.6" ry="5.6"/><line x1="739.8" y1="346.0" x2="751.0" y2="346.0"/><line x1="745.4" y1="340.2" x2="745.4" y2="351.8"/><line x1="740.4" y1="343.4" x2="750.4" y2="343.4"/><line x1="740.4" y1="348.6" x2="750.4" y2="348.6"/></g>
<circle cx="822.0" cy="425.0" r="6.3" fill="#2b9fd8"/><g fill="none" stroke="#bfe4f5" stroke-width="0.5"><ellipse cx="822.0" cy="425.0" rx="2.6" ry="5.6"/><line x1="816.4" y1="425.0" x2="827.6" y2="425.0"/><line x1="822.0" y1="419.2" x2="822.0" y2="430.8"/><line x1="817.0" y1="422.4" x2="827.0" y2="422.4"/><line x1="817.0" y1="427.6" x2="827.0" y2="427.6"/></g>
</svg>
<div class="fl" style="left:548.10px;top:272.72px;width:120px;text-align:center;font-family:'Liberation Serif',serif;font-size:9.6px;color:#222;">Sensor module</div>
<div class="fl" style="left:700.90px;top:291.62px;width:120px;text-align:center;font-family:'Liberation Serif',serif;font-size:9.6px;color:#222;">The website</div>
<div class="fl" style="left:748.10px;top:365.52px;width:120px;text-align:center;font-family:'Liberation Serif',serif;font-size:9.6px;color:#222;">SQL Database</div>
<div class="fl" style="left:654.20px;top:329.40px;width:120px;text-align:center;font-family:'Liberation Serif',serif;font-size:8.0px;color:#222;">website</div>
<div class="fl" style="left:731.20px;top:402.80px;width:120px;text-align:center;font-family:'Liberation Serif',serif;font-size:8.0px;color:#222;">Data</div>
<div class="fl" style="left:731.20px;top:412.20px;width:120px;text-align:center;font-family:'Liberation Serif',serif;font-size:8.0px;color:#222;">Storage</div>
<div class="fl" style="left:539.90px;top:409.53px;width:120px;text-align:center;font-family:'Liberation Serif',serif;font-size:7.4px;color:#222;">Ethernet,</div>
<div class="fl" style="left:539.90px;top:419.33px;width:120px;text-align:center;font-family:'Liberation Serif',serif;font-size:7.4px;color:#222;">Wifi</div>
<div class="fl" style="left:510.29999999999995px;top:351.5px;width:60px;height:8px;text-align:center;font-family:'Liberation Serif',serif;font-size:7.4px;line-height:8px;color:#222;transform:rotate(90deg)">Lora</div>
<div class="fl" style="left:631.0px;top:358.7px;width:60px;height:8px;text-align:center;font-family:'Liberation Serif',serif;font-size:7.4px;line-height:8px;color:#222;transform:rotate(-51deg)">HTTP</div>
<div class="fl" style="left:638.8px;top:365.8px;width:60px;height:8px;text-align:center;font-family:'Liberation Serif',serif;font-size:7.4px;line-height:8px;color:#222;transform:rotate(-51deg)">POST</div>
<div class="fl" style="left:647.0px;top:371.6px;width:60px;height:8px;text-align:center;font-family:'Liberation Serif',serif;font-size:7.4px;line-height:8px;color:#222;transform:rotate(-51deg)">request</div>
<div class="fl" style="left:626.5px;top:424.2px;width:80px;text-align:center;font-family:'Liberation Sans',sans-serif;font-weight:bold;font-size:8.9px;color:#333;transform:scaleY(1.15)">THE THINGS</div>
<div class="fl" style="left:626.5px;top:432.6px;width:80px;text-align:center;font-family:'Liberation Sans',sans-serif;font-weight:bold;font-size:5.6px;letter-spacing:3.75px;text-indent:3.75px;color:#333">NETWORK</div>
</body></html>
